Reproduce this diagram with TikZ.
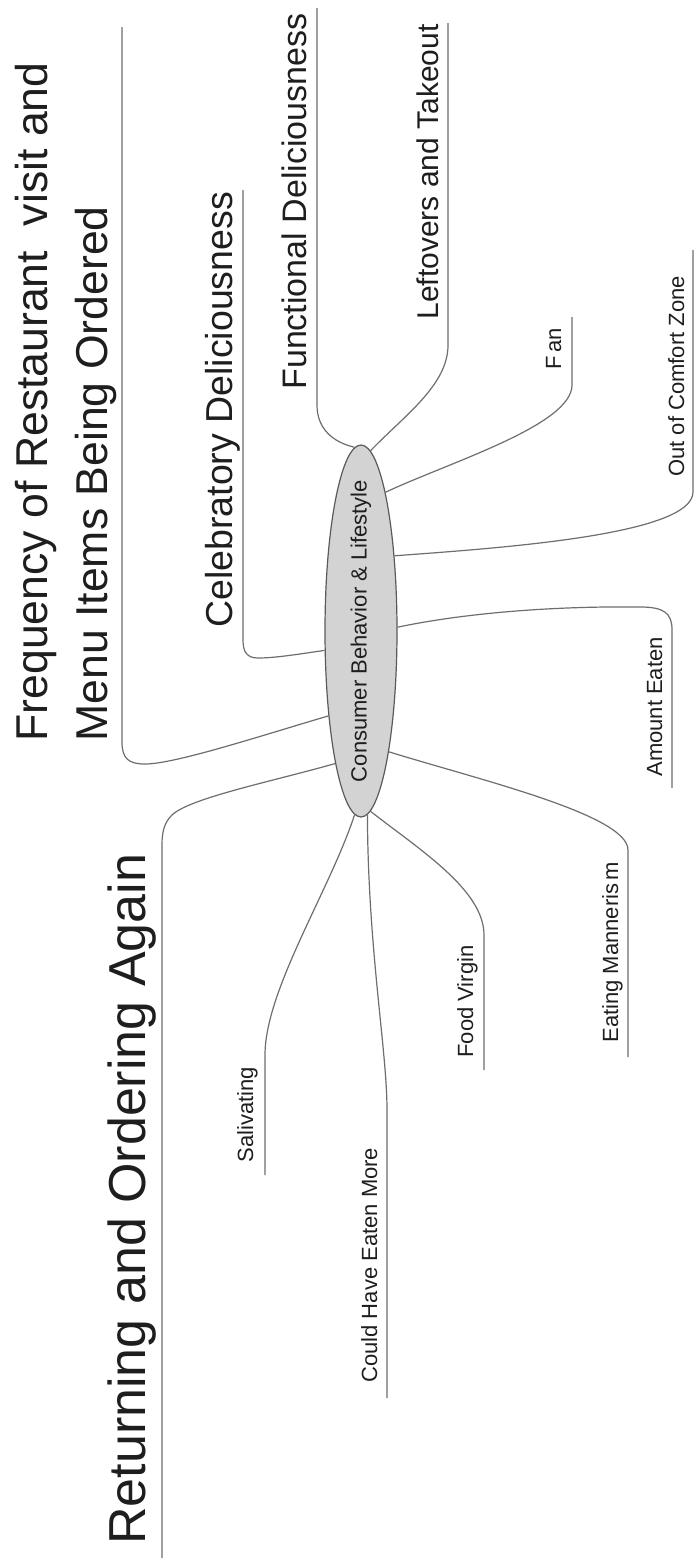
\documentclass[tikz,border=0pt]{standalone}
\usepackage{fontspec}
\setmainfont{Liberation Sans}
\usetikzlibrary{shapes.geometric}
\definecolor{linegray}{HTML}{6E6E6E}
\definecolor{hubfill}{HTML}{D3D3D3}
\definecolor{hubdraw}{HTML}{5A5A5A}
\definecolor{inktext}{HTML}{1E1E1E}

\tikzset{
  branch/.style={draw=linegray, line width=0.6pt},
  lbl/.style={rotate=90, anchor=base west, inner sep=0pt, text=inktext},
  fsmall/.style={font=\fontsize{11pt}{13pt}\selectfont},
  fmid/.style={font=\fontsize{15pt}{18pt}\selectfont},
  fmidb/.style={font=\fontsize{17pt}{20pt}\selectfont},
  fbig/.style={font=\fontsize{18.75pt}{22pt}\selectfont},
  fhuge/.style={font=\fontsize{22.3pt}{26pt}\selectfont},
  fgiant/.style={font=\fontsize{26pt}{30pt}\selectfont},
  hub/.style={ellipse, draw=hubdraw, fill=hubfill, line width=0.6pt,
    minimum width=36pt, minimum height=186pt, inner sep=0pt, text=inktext}
}

\begin{document}
\begin{tikzpicture}[x=0.5pt, y=-0.5pt]
  \fill[white] (0,0) rectangle (694,1564);
  \useasboundingbox (0,0) rectangle (694,1564);

  % central topic
  \node[hub, fsmall] (core) at (361,631)
    {\rotatebox{90}{\makebox[0pt]{Consumer Behavior \& Lifestyle}}};

  % ends of the underlines
  \coordinate (freqEnd) at (122,27);
  \coordinate (retEnd)  at (162,1558);
  \coordinate (celEnd)  at (243,190);
  \coordinate (funEnd)  at (317,8);
  \coordinate (lefEnd)  at (448,23);
  \coordinate (fanEnd)  at (572,317);
  \coordinate (comEnd)  at (693,250);
  \coordinate (amtEnd)  at (672,788);
  \coordinate (eatEnd)  at (628,1057);
  \coordinate (fvEnd)   at (484,1070);
  \coordinate (chEnd)   at (387,1398);
  \coordinate (salEnd)  at (265,1175);

  % branches on the left-hand side
  \draw[branch] (core.249) .. controls (260,736) and (175,764) .. (145,764)
    .. controls (128,764) and (122,758) .. (122,742) -- (freqEnd);
  \draw[branch] (core.259) .. controls (270,782) and (190,798) .. (172,815)
    .. controls (165,822) and (162,830) .. (162,845) -- (retEnd);
  \draw[branch] (core.208) .. controls (300,654) and (275,658) .. (258,658)
    .. controls (247,658) and (243,652) .. (243,640) -- (celEnd);
  \draw[branch] (core.92.5) .. controls (332,442) and (317,428) .. (317,405) -- (funEnd);
  \draw[branch] (core.87) .. controls (405,415) and (448,385) .. (448,345) -- (lefEnd);
  \draw[branch] (core.268.4) .. controls (330,890) and (265,990) .. (265,1055) -- (salEnd);
  \draw[branch] (core.272) .. controls (368,950) and (387,1050) .. (387,1110) -- (chEnd);

  % branches on the right-hand side
  \draw[branch] (core.80.5) .. controls (450,462) and (572,425) .. (572,385) -- (fanEnd);
  \draw[branch] (core.66) .. controls (500,548) and (693,535) .. (693,492) -- (comEnd);
  \draw[branch] (core.6) .. controls (470,612) and (560,606) .. (640,607)
    .. controls (664,607) and (672,613) .. (672,630) -- (amtEnd);
  \draw[branch] (core.283.5) .. controls (480,780) and (628,815) .. (628,850) -- (eatEnd);
  \draw[branch] (core.273.8) .. controls (420,850) and (484,890) .. (484,935) -- (fvEnd);

  % labels
  \node[lbl, fhuge] (freqA) at (47,742) {Frequency of Restaurant\ \ visit and};
  \node[lbl, fhuge] (freqB) at (107,742) {Menu Items Being Ordered};
  \node[lbl, fgiant] (ret) at (145,1545) {Returning and Ordering Again};
  \node[lbl, fbig] (cel) at (232,628) {Celebratory Deliciousness};
  \node[lbl, fmidb] (fun) at (306,390) {Functional Deliciousness};
  \node[lbl, fmid] (lef) at (438,320) {Leftovers and Takeout};
  \node[lbl, fsmall] (fan) at (561,370) {F\,an};
  \node[lbl, fsmall] (com) at (684,477) {Out of Comfort Zone};
  \node[lbl, fsmall] (amt) at (662,777) {Amount Eaten};
  \node[lbl, fsmall] (eat) at (618,1043) {Eating Manneris\,m};
  \node[lbl, fsmall] (fv) at (473,1058) {Food Virgin};
  \node[lbl, fsmall] (sal) at (253,1163) {Salivating};
  \node[lbl, fsmall] (ch) at (377,1383) {Could Have Eaten More};
\end{tikzpicture}
\end{document}
